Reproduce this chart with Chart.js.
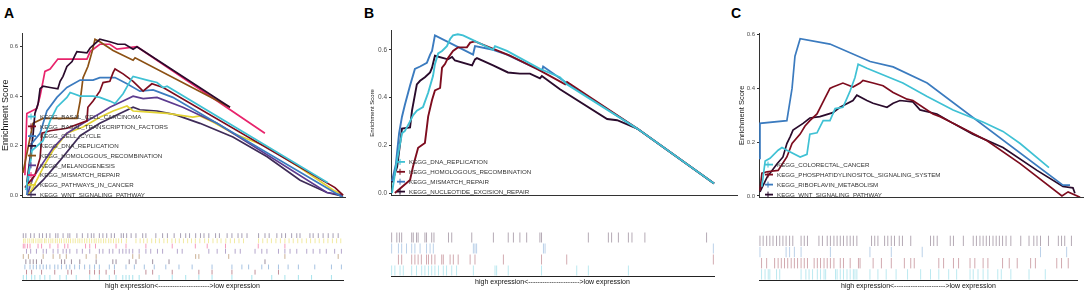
<!DOCTYPE html>
<html>
<head>
<meta charset="utf-8">
<script src="https://cdn.jsdelivr.net/npm/chart.js@4.4.1/dist/chart.umd.min.js"></script>
<style>
  body { margin: 0; background: #fff; width: 1084px; height: 291px; position: relative; overflow: hidden; }
  canvas { position: absolute; }
  .tag { position: absolute; font: bold 14px "Liberation Sans", Arial, sans-serif; line-height: 14px; color: #000; }
</style>
</head>
<body>
<div class="tag" style="left:4px;top:6px">A</div>
<div class="tag" style="left:364px;top:6px">B</div>
<div class="tag" style="left:731px;top:6px">C</div>

<canvas id="esA" width="348" height="175" style="left:0;top:28px"></canvas>
<canvas id="esB" width="371" height="176" style="left:369px;top:25px"></canvas>
<canvas id="esC" width="347" height="175" style="left:737px;top:28px"></canvas>
<canvas id="rugA" width="348" height="62" style="left:0;top:228px"></canvas>
<canvas id="rugB" width="340" height="60" style="left:380px;top:226px"></canvas>
<canvas id="rugC" width="344" height="61" style="left:740px;top:229px"></canvas>

<script>
// x = position in the ranked gene list (%), y = running enrichment score
const esTicks = [0, 0.2, 0.4, 0.6];
const exprLabel = "high expression<---------------------->low expression";

// ---- panel A
const setsA = ["KEGG_BASAL_CELL_CARCINOMA", "KEGG_BASAL_TRANSCRIPTION_FACTORS", "KEGG_CELL_CYCLE",
  "KEGG_DNA_REPLICATION", "KEGG_HOMOLOGOUS_RECOMBINATION", "KEGG_MELANOGENESIS",
  "KEGG_MISMATCH_REPAIR", "KEGG_PATHWAYS_IN_CANCER", "KEGG_WNT_SIGNALING_PATHWAY"];
const colorsA = ["#3fc1d4", "#7d0c1e", "#3b7bbf", "#2a0b2c", "#8c5114", "#5c3b8f", "#e8246c", "#e2d233", "#3f2c58"];

const esA_basalCell = [[1.2,0.02],[2.5,0.12],[3.1,0.18],[6.5,0.22],[8.7,0.30],[10.8,0.355],[13.9,0.395],[14.9,0.415],[18.0,0.40],[22.0,0.40],[24.1,0.395],[27.2,0.38],[28.8,0.37],[31.3,0.41],[34.1,0.475],[34.4,0.48],[38.7,0.465],[41.8,0.455],[43.7,0.435],[44.9,0.44],[94.7,0.05]];
const esA_basalTF = [[0.9,0.03],[4.0,0.08],[5.6,0.15],[6.2,0.25],[8.7,0.26],[13.9,0.27],[20.1,0.30],[20.4,0.355],[22.0,0.38],[24.1,0.42],[25.1,0.455],[27.2,0.46],[28.2,0.495],[28.8,0.51],[31.3,0.49],[34.4,0.46],[37.5,0.42],[40.2,0.45],[43.7,0.435],[96.9,0.03],[99.4,0.0]];
const esA_cellCycle = [[1.5,0.0],[3.1,0.21],[5.6,0.25],[7.7,0.34],[10.8,0.395],[13.9,0.435],[18.0,0.465],[22.0,0.465],[24.1,0.475],[28.8,0.475],[32.5,0.45],[36.5,0.42],[40.6,0.425],[46.7,0.395],[99.4,-0.01]];
const esA_dnaRep = [[1.5,0.05],[3.4,0.24],[4.0,0.33],[5.0,0.37],[5.6,0.43],[6.5,0.44],[8.7,0.435],[11.1,0.43],[11.8,0.46],[12.7,0.48],[13.9,0.52],[15.5,0.54],[16.4,0.565],[17.0,0.58],[20.1,0.575],[21.1,0.595],[24.1,0.63],[27.2,0.62],[29.7,0.61],[31.9,0.61],[34.4,0.59],[35.6,0.60],[64.4,0.355]];
const esA_homolog = [[0.3,0.09],[3.4,0.29],[6.5,0.31],[17.0,0.31],[18.0,0.38],[18.9,0.475],[20.4,0.52],[21.7,0.58],[22.6,0.63],[24.1,0.62],[28.2,0.585],[34.4,0.545],[35.0,0.555],[64.4,0.355]];
const esA_melano = [[1.9,0.01],[3.4,0.07],[6.5,0.13],[9.6,0.19],[13.9,0.25],[18.9,0.29],[24.1,0.33],[27.2,0.355],[31.3,0.38],[34.4,0.40],[37.5,0.39],[41.8,0.395],[49.8,0.355],[60.4,0.29],[94.4,0.01],[99.4,0.0]];
const esA_mismatch = [[0.9,0.08],[1.5,0.33],[4.6,0.35],[5.6,0.40],[6.5,0.46],[7.1,0.50],[8.7,0.51],[11.1,0.55],[20.1,0.55],[21.1,0.58],[24.1,0.61],[27.2,0.61],[29.4,0.59],[35.6,0.60],[75.2,0.25]];
const esA_pathways = [[1.9,0.0],[3.4,0.03],[6.5,0.11],[9.6,0.18],[13.9,0.25],[18.9,0.275],[24.1,0.315],[28.2,0.34],[32.5,0.36],[34.4,0.34],[39.6,0.335],[44.9,0.33],[52.9,0.315],[55.1,0.32],[59.1,0.295],[65.3,0.25],[75.9,0.195],[86.1,0.11],[96.3,0.02],[99.4,0.0]];
const esA_wnt = [[1.5,0.0],[3.4,0.02],[6.5,0.06],[11.8,0.14],[18.0,0.24],[24.1,0.29],[30.3,0.33],[34.4,0.355],[36.5,0.345],[41.8,0.34],[47.4,0.325],[55.1,0.29],[65.3,0.235],[75.9,0.155],[86.1,0.06],[94.4,0.01],[99.4,-0.005]];

const hitsA_basalCell = [0.4,1.4,3.0,4.0,5.6,7.1,8.7,11.8,13.8,16.9,21.1,24.1,27.2,29.3,31.4,32.4,33.4,34.5,36.5,42.7,46.8,51.0,55.1,59.2,65.4,71.6,77.8,81.9,86.1,90.2,96.4];
const hitsA_basalTF = [1.4,3.0,6.1,10.2,14.3,15.4,21.1,22.6,24.1,26.2,28.8,38.6,40.7,46.8,55.1,59.2,65.4,72.6,79.9];
const hitsA_cellCycle = [0.9,2.5,3.5,4.5,5.6,6.6,7.6,8.7,10.2,11.2,12.3,13.8,14.9,16.4,17.9,19.5,21.1,22.6,24.1,27.2,28.8,32.4,35.0,38.1,41.2,44.8,48.9,53.0,59.2,65.4,68.5,70.6,74.7,76.8,79.9,82.9,86.1,91.2,96.4,99.5];
const hitsA_dnaRep = [1.2,2.5,3.5,4.5,6.1,12.3,13.3,15.4,18.0,23.1,28.3,29.3,33.4,35.5,40.7,45.8,75.7];
const hitsA_homolog = [0.4,2.0,6.6,9.7,11.8,13.8,20.0,23.1,34.5,36.5,54.1,55.1,64.4,81.9,98.5];
const hitsA_melano = [1.4,2.7,4.5,6.6,7.6,9.7,11.2,12.8,13.8,14.9,17.1,18.8,21.1,24.1,25.2,27.2,28.3,30.3,31.4,32.4,33.4,34.5,36.5,38.6,40.1,42.2,43.8,48.4,49.9,58.2,60.8,63.4,66.4,68.0,72.6,74.7,76.3,79.9,81.9,83.5,85.6,88.7,90.7,92.8,94.8,97.4,99.5];
const hitsA_mismatch = [0.4,0.9,1.7,2.5,5.0,6.1,8.7,11.2,13.3,14.3,19.8,21.1,22.9,29.3,32.4,38.6,46.8,54.0,57.7,63.4,73.6,81.9];
const hitsA_pathways = [0.5,1.0,1.8,2.4,3.1,3.6,4.3,5.0,5.6,6.2,7.0,7.5,8.3,9.0,9.6,10.4,11.0,11.7,12.3,13.1,13.8,14.5,15.1,15.9,16.6,17.4,18.0,18.7,19.5,20.2,21.0,21.7,22.5,23.1,23.9,24.6,25.4,26.1,27.0,27.7,28.5,29.3,30.1,31.0,32.5,35.5,36.8,37.9,39.0,40.4,41.6,42.8,44.2,45.3,46.7,47.8,49.0,50.3,51.6,52.8,54.0,55.4,56.9,58.1,59.5,60.8,62.0,63.5,64.9,66.2,67.6,69.0,73.7,75.0,76.4,77.7,79.1,80.5,81.9,83.2,84.5,85.9,87.2,88.6,89.9,91.3,92.6,94.0,95.3,96.7,98.0,99.3];
const hitsA_wnt = [0.4,1.2,2.7,3.8,5.4,6.4,7.6,8.7,10.5,11.2,12.8,14.3,14.9,17.1,18.8,20.5,21.6,22.4,24.1,25.2,26.4,27.8,28.8,30.9,31.6,32.6,34.0,35.5,37.6,38.6,41.7,43.8,45.3,47.4,49.4,51.0,52.2,54.1,55.6,56.7,58.2,60.3,61.5,63.9,65.4,67.3,68.5,70.1,73.7,75.7,77.0,79.4,80.9,82.1,84.0,85.6,86.6,89.7,90.7,92.3,93.8,95.4,96.9,98.5];

// ---- panel B
const setsB = ["KEGG_DNA_REPLICATION", "KEGG_HOMOLOGOUS_RECOMBINATION", "KEGG_MISMATCH_REPAIR", "KEGG_NUCLEOTIDE_EXCISION_REPAIR"];
const colorsB = ["#3fc1d4", "#7d0c1e", "#3b7bbf", "#2a0b2c"];

const esB_dnaRep = [[0.3,0.0],[1.9,0.14],[3.4,0.25],[4.3,0.26],[5.9,0.30],[6.8,0.325],[8.0,0.345],[9.9,0.36],[11.5,0.42],[13.0,0.49],[13.6,0.54],[14.6,0.585],[15.8,0.595],[17.3,0.615],[18.3,0.645],[19.2,0.66],[20.7,0.665],[22.3,0.66],[25.4,0.64],[31.6,0.60],[32.2,0.615],[35.9,0.595],[46.1,0.52],[52.3,0.485],[54.5,0.455],[76.2,0.27],[100,0.04]];
const esB_homolog = [[1.2,0.0],[5.9,0.055],[6.8,0.11],[8.4,0.19],[10.5,0.21],[11.1,0.275],[11.5,0.32],[12.7,0.39],[13.6,0.43],[15.2,0.44],[15.8,0.525],[16.7,0.54],[17.6,0.565],[19.2,0.595],[20.7,0.61],[23.5,0.61],[24.5,0.63],[26.0,0.635],[36.8,0.575],[45.2,0.52],[53.9,0.455],[54.5,0.465],[76.2,0.27],[100,0.04]];
const esB_mismatch = [[0.3,0.05],[1.5,0.12],[2.5,0.25],[3.4,0.32],[4.3,0.37],[5.9,0.45],[7.4,0.52],[9.0,0.53],[11.1,0.545],[12.1,0.58],[12.7,0.595],[13.6,0.66],[25.4,0.58],[26.0,0.615],[31.6,0.60],[35.9,0.58],[46.7,0.51],[47.1,0.53],[54.5,0.46],[76.2,0.27],[100,0.04]];
const esB_ner = [[0.3,0.045],[1.9,0.11],[3.4,0.27],[5.9,0.275],[6.5,0.345],[8.0,0.455],[9.0,0.47],[10.5,0.485],[12.1,0.505],[12.7,0.525],[13.6,0.575],[17.6,0.56],[18.9,0.57],[19.8,0.555],[25.1,0.535],[26.0,0.56],[26.6,0.565],[31.6,0.535],[36.2,0.505],[39.9,0.50],[43.0,0.50],[46.1,0.48],[46.7,0.49],[52.3,0.435],[66.9,0.31],[70.0,0.305],[76.2,0.27],[100,0.04]];

const hitsB_dnaRep = [0.2,1.2,2.8,3.8,6.4,7.9,9.5,10.5,11.6,12.6,13.6,14.7,16.2,17.2,18.8,20.3,25.5,32.2,32.7,36.3,46.6,57.5,61.1,73.5];
const hitsB_homolog = [2.3,3.3,6.4,7.4,8.4,9.4,11.0,11.6,12.6,13.6,15.7,16.2,18.3,19.3,20.8,24.5,26.0,34.8,46.6,54.4,99.8];
const hitsB_mismatch = [0.2,2.3,3.3,4.8,6.4,7.4,9.0,11.0,12.1,13.1,25.5,26.0,26.5,47.2,47.7,99.8];
const hitsB_ner = [0.2,1.8,2.6,3.3,6.4,6.9,7.9,8.4,10.5,11.0,12.6,13.3,17.8,18.8,25.0,31.7,36.3,37.9,39.9,42.0,46.1,46.6,61.1,67.3,68.3,70.4,73.5,74.6,78.6,97.7];

// ---- panel C
const setsC = ["KEGG_COLORECTAL_CANCER", "KEGG_PHOSPHATIDYLINOSITOL_SIGNALING_SYSTEM", "KEGG_RIBOFLAVIN_METABOLISM", "KEGG_WNT_SIGNALING_PATHWAY"];
const colorsC = ["#3fc1d4", "#7d0c1e", "#3b7bbf", "#2a0b2c"];

const esC_colorectal = [[0.9,0.035],[1.9,0.13],[3.4,0.14],[5.9,0.17],[7.1,0.18],[8.6,0.17],[12.7,0.145],[14.8,0.155],[15.7,0.23],[17.9,0.235],[19.8,0.28],[21.9,0.28],[23.5,0.325],[25.9,0.33],[27.2,0.365],[28.1,0.39],[29.0,0.42],[29.6,0.44],[30.6,0.49],[33.3,0.475],[44.4,0.42],[51.9,0.37],[59.9,0.32],[66.0,0.29],[69.1,0.275],[75.3,0.24],[80.6,0.195],[89.5,0.105]];
const esC_phospho = [[0.3,0.02],[0.9,0.085],[2.5,0.09],[5.9,0.095],[8.6,0.145],[10.2,0.195],[12.7,0.23],[14.2,0.26],[15.7,0.28],[17.9,0.305],[20.4,0.365],[21.9,0.40],[22.8,0.405],[25.9,0.42],[29.0,0.405],[31.2,0.42],[32.1,0.43],[35.2,0.42],[38.3,0.41],[41.4,0.385],[45.7,0.36],[47.5,0.355],[53.7,0.305],[55.9,0.295],[59.9,0.27],[70.4,0.205],[80.6,0.12],[93.5,0.0],[95.4,0.015],[99.1,-0.005]];
const esC_riboflavin = [[0.0,0.14],[0.3,0.27],[8.6,0.28],[10.2,0.40],[11.1,0.52],[12.7,0.585],[21.9,0.565],[34.3,0.50],[41.4,0.48],[51.9,0.42],[93.8,0.04],[96.0,0.04]];
const esC_wnt = [[0.3,0.015],[2.5,0.07],[5.6,0.12],[7.4,0.145],[8.6,0.195],[9.6,0.22],[10.5,0.245],[13.6,0.27],[15.7,0.29],[18.8,0.295],[22.8,0.31],[25.0,0.33],[29.0,0.355],[30.2,0.375],[33.3,0.355],[35.2,0.345],[39.5,0.33],[41.4,0.345],[43.5,0.355],[47.5,0.35],[49.7,0.32],[54.9,0.305],[59.9,0.27],[66.0,0.23],[75.3,0.18],[85.8,0.095],[93.8,0.035],[96.9,0.03],[97.5,0.01]];

const hitsC_colorectal = [0.8,1.9,2.9,3.4,5.5,6.5,13.2,14.7,15.7,16.8,18.3,19.3,20.4,20.9,24.0,24.5,25.5,26.5,27.6,28.6,29.6,30.1,30.7,34.8,37.3,39.9,43.0,46.6,50.7,53.8,56.4,59.5,62.0,66.2,67.2,68.7,70.3,71.8,74.9,76.0,79.0,84.7,89.8];
const hitsC_phospho = [0.8,2.4,4.9,6.0,7.0,8.0,9.0,10.1,11.1,12.1,13.2,14.2,15.2,17.3,18.3,19.3,20.4,21.4,22.4,23.5,25.5,26.5,28.6,31.2,31.7,35.8,38.4,41.5,45.6,47.6,48.7,56.4,57.9,61.0,62.6,66.2,67.7,70.3,71.8,76.4,78.5,81.0,85.2,86.7,93.4,94.9,97.0];
const hitsC_riboflavin = [0.3,8.5,9.6,11.1,13.2,22.4,34.8,41.5,51.2,88.3,96.5];
const hitsC_wnt = [0.3,1.3,2.4,3.4,4.4,5.5,6.5,7.5,8.5,9.6,10.6,13.2,14.2,15.2,18.8,19.9,21.4,22.4,23.5,24.5,25.5,26.5,27.6,28.6,29.6,30.7,35.3,36.3,37.3,39.4,40.4,41.5,42.5,44.0,45.0,47.6,53.8,54.8,55.9,60.0,61.0,64.1,67.2,68.2,69.3,70.3,71.3,72.3,73.4,74.4,75.4,76.4,77.5,79.0,82.1,84.7,86.2,87.2,88.3,90.8,93.9,94.9,95.9,98.0];

const family = "'Liberation Sans', Arial, sans-serif";
Chart.defaults.font.family = family;

function fade(hex, a) {
  const n = parseInt(hex.slice(1), 16);
  return `rgba(${n >> 16},${(n >> 8) & 255},${n & 255},${a})`;
}

// legend drawn inside the plot, bottom-left, like the ggplot original
const keyLegend = {
  id: "keyLegend",
  afterDatasetsDraw(chart, args, o) {
    const { ctx, chartArea: a } = chart;
    ctx.save();
    ctx.font = `${o.size}px ${family}`;
    ctx.textBaseline = "middle";
    chart.data.datasets.forEach((d, i) => {
      const y = a.top + o.top + i * o.step;
      ctx.strokeStyle = d.borderColor;
      ctx.lineWidth = 1.8;
      ctx.beginPath(); ctx.moveTo(a.left + 6, y); ctx.lineTo(a.left + 14, y); ctx.stroke();
      ctx.lineWidth = 1;
      ctx.beginPath(); ctx.moveTo(a.left + 9, y - 3); ctx.lineTo(a.left + 9, y + 3); ctx.stroke();
      ctx.fillStyle = "#333";
      ctx.fillText(d.label, a.left + 18, y + 0.5);
    });
    ctx.restore();
  }
};

function esChart(id, sets, colors, curves, o) {
  return new Chart(document.getElementById(id), {
    type: "line",
    data: {
      datasets: curves.map((c, i) => ({
        label: sets[i],
        data: c.map(p => ({ x: p[0], y: p[1] })),
        borderColor: colors[i],
        borderWidth: o.lw,
        pointRadius: 0,
        fill: false,
        tension: 0
      }))
    },
    options: {
      responsive: false,
      animation: false,
      events: [],
      layout: { padding: { top: 5, right: o.padRight, bottom: 6, left: 0 } },
      plugins: {
        legend: { display: false },
        tooltip: { enabled: false },
        keyLegend: { top: o.legTop, step: o.legStep, size: 6.2 }
      },
      scales: {
        x: {
          type: "linear", min: 0, max: o.xMax,
          ticks: { display: false },
          grid: { display: false },
          border: { display: true, color: "#333", width: 1 },
          afterFit: s => { s.height = 0; }
        },
        y: {
          min: o.yMin, max: o.yMax,
          afterBuildTicks: s => { s.ticks = esTicks.map(v => ({ value: v })); },
          afterFit: s => { s.width = o.yw; },
          ticks: { font: { size: o.tick }, color: "#4d4d4d", padding: 2, callback: v => v.toFixed(1) },
          grid: { drawOnChartArea: false, tickLength: 2, color: "#333" },
          border: { color: "#333", width: 1 },
          title: { display: true, text: "Enrichment Score", font: { size: o.title }, color: "#1a1a1a", padding: 0 }
        }
      }
    },
    plugins: [keyLegend]
  });
}

function rugChart(id, colors, hits, o) {
  return new Chart(document.getElementById(id), {
    type: "scatter",
    data: {
      datasets: hits.map((h, i) => ({
        data: h.map(x => ({ x: x, y: i + 1 })),
        pointStyle: "line",
        pointRotation: 90,
        pointRadius: o.r,
        pointBorderWidth: 1,
        pointBorderColor: fade(colors[i], o.alpha),
        borderColor: fade(colors[i], o.alpha)
      }))
    },
    options: {
      responsive: false,
      animation: false,
      events: [],
      layout: { padding: { top: 5, right: o.padRight, bottom: 0, left: o.padLeft } },
      plugins: { legend: { display: false }, tooltip: { enabled: false } },
      scales: {
        x: {
          type: "linear", min: 0, max: 100,
          ticks: { display: false },
          grid: { display: false },
          border: { display: true, color: "#222", width: 1 },
          title: { display: true, text: exprLabel, font: { size: 7 }, color: "#111", padding: 0 },
          afterFit: s => { s.height = 10; }
        },
        y: { display: false, min: 0.5, max: hits.length + 0.5 }
      }
    }
  });
}

esChart("esA", setsA, colorsA,
  [esA_basalCell, esA_basalTF, esA_cellCycle, esA_dnaRep, esA_homolog, esA_melano, esA_mismatch, esA_pathways, esA_wnt],
  { lw: 1.7, padRight: 3, xMax: 100, yMin: -0.008, yMax: 0.653, yw: 22, tick: 6, title: 9, legTop: 83, legStep: 9.75 });
esChart("esB", setsB, colorsB,
  [esB_dnaRep, esB_homolog, esB_mismatch, esB_ner],
  { lw: 1.9, padRight: 3, xMax: 107.1, yMin: -0.008, yMax: 0.679, yw: 22, tick: 6.5, title: 6, legTop: 131, legStep: 9.9 });
esChart("esC", setsC, colorsC,
  [esC_colorectal, esC_phospho, esC_riboflavin, esC_wnt],
  { lw: 1.7, padRight: 1, xMax: 100, yMin: -0.004, yMax: 0.604, yw: 22, tick: 6, title: 7.5, legTop: 131, legStep: 10 });

rugChart("rugA", colorsA,
  [hitsA_basalCell, hitsA_basalTF, hitsA_cellCycle, hitsA_dnaRep, hitsA_homolog, hitsA_melano, hitsA_mismatch, hitsA_pathways, hitsA_wnt],
  { r: 2.4, alpha: 0.45, padLeft: 22, padRight: 3 });
rugChart("rugB", colorsB, [hitsB_dnaRep, hitsB_homolog, hitsB_mismatch, hitsB_ner],
  { r: 5, alpha: 0.35, padLeft: 11, padRight: 6 });
rugChart("rugC", colorsC, [hitsC_colorectal, hitsC_phospho, hitsC_riboflavin, hitsC_wnt],
  { r: 5.2, alpha: 0.35, padLeft: 19, padRight: 1 });
</script>
</body>
</html>
